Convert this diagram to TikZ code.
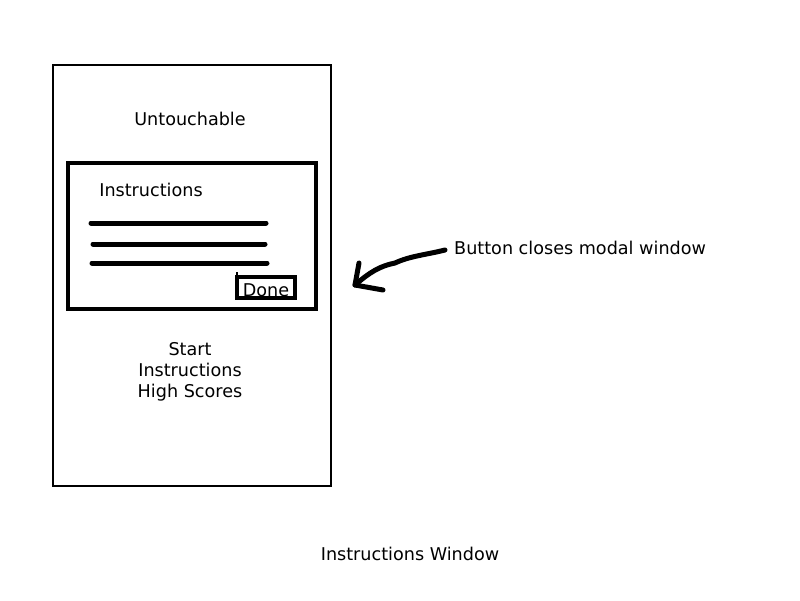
\documentclass[tikz,border=0pt]{standalone}
\usepackage{fontspec}
\setmainfont{DejaVu Sans}
\begin{document}
\begin{tikzpicture}[x=1pt,y=-1pt,
  lbl/.style={font=\fontsize{17.6}{21}\selectfont, inner sep=0pt, align=center},
  textline/.style={line width=5pt, line cap=round},
  handarrow/.style={line width=5pt, line cap=round, line join=round}]
\useasboundingbox (0,0) rectangle (800,600);
\fill[white] (0,0) rectangle (800,600);
% outer phone window
\draw[line width=2.5pt] (53,65) rectangle (331,486);
\node[lbl] (untouch) at (190,119) {Untouchable};
% modal window
\draw[line width=4pt] (68,163) rectangle (316,309);
\node[lbl] (instr) at (151,190) {Instructions};
\draw[textline] (91,223) -- (266,223);
\draw[textline] (93,244) -- (265,244);
\draw[textline] (92,263) -- (267,263);
% done button
\draw[line width=3.5pt] (237,277) rectangle (295,298);
\draw[line width=2.5pt] (237,272) -- (237,278);
\node[lbl] (done) at (266,290) {Done};
% menu
\node[lbl] (menu) at (190,372) {Start\\Instructions\\High Scores};
% annotation
\node[lbl, anchor=west] (note) at (454,248) {Button closes modal window};
\coordinate (tip) at (355,285);
\draw[handarrow] (445,250) .. controls (425,255) and (410,256) .. (395,263)
  .. controls (380,266) and (370,272) .. (tip);
\draw[handarrow] (359,263) -- (tip) -- (383,290);
% caption
\node[lbl] (caption) at (410,554) {Instructions Window};
\end{tikzpicture}
\end{document}
